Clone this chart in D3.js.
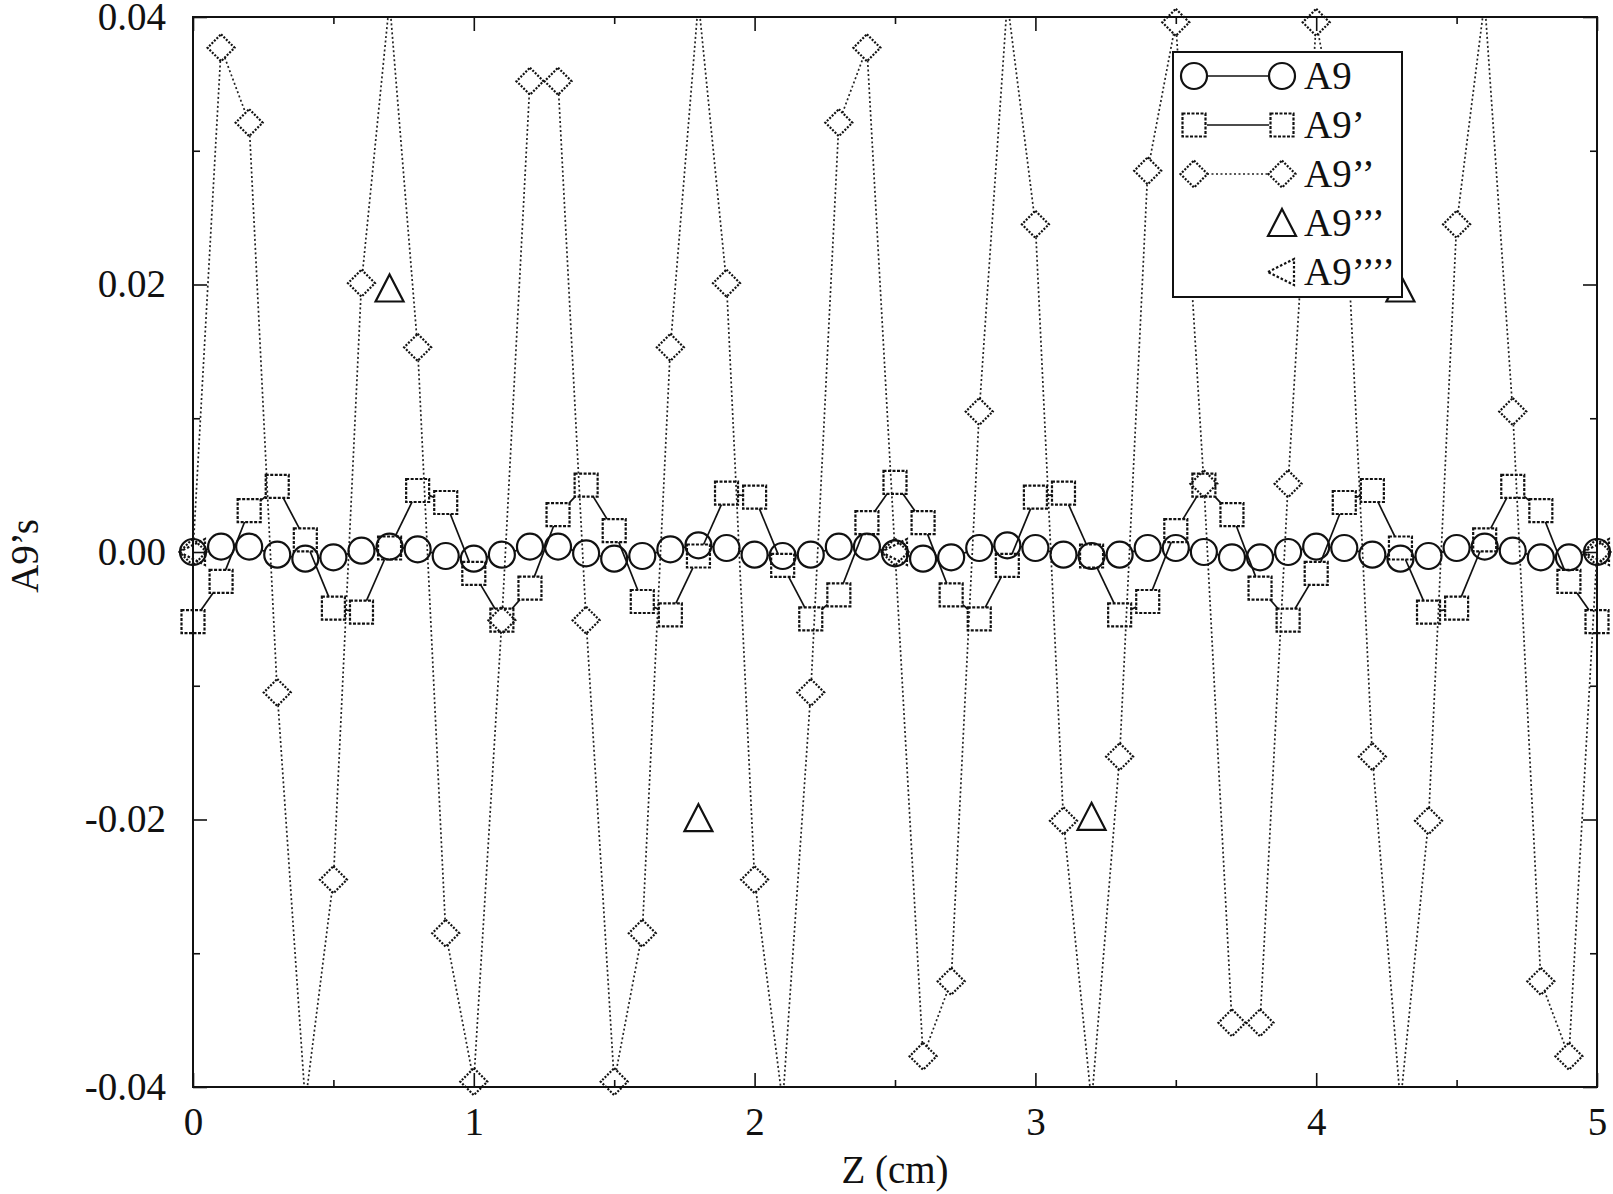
<!DOCTYPE html>
<html>
<head>
<meta charset="utf-8">
<script src="https://cdn.jsdelivr.net/npm/d3@7"></script>
<style>
  body { margin: 0; background: #fff; }
  text { font-family: "Liberation Serif", "Times New Roman", Tinos, "DejaVu Serif", serif; fill: #111; }
</style>
</head>
<body>
<svg id="chart" width="1613" height="1194"></svg>
<script>
// Z positions (cm)
const zValues = [0, 0.1, 0.2, 0.3, 0.4, 0.5, 0.6, 0.7, 0.8, 0.9,
                 1.0, 1.1, 1.2, 1.3, 1.4, 1.5, 1.6, 1.7, 1.8, 1.9,
                 2.0, 2.1, 2.2, 2.3, 2.4, 2.5, 2.6, 2.7, 2.8, 2.9,
                 3.0, 3.1, 3.2, 3.3, 3.4, 3.5, 3.6, 3.7, 3.8, 3.9,
                 4.0, 4.1, 4.2, 4.3, 4.4, 4.5, 4.6, 4.7, 4.8, 4.9, 5.0];

// A9 (circles)
const a9 = [0, 0.0004, 0.0004, -0.0002, -0.0005, -0.0004, 0.0001, 0.0004, 0.0002, -0.0003,
            -0.0005, -0.0002, 0.0004, 0.0004, -0.0001, -0.0005, -0.0003, 0.0002, 0.0005, 0.0003,
            -0.0002, -0.0003, -0.0002, 0.0004, 0.0004, -0.0001, -0.0005, -0.0004, 0.0003, 0.0005,
            0.0003, -0.0002, -0.0003, -0.0002, 0.0003, 0.0003, 0, -0.0004, -0.0004, 0,
            0.0004, 0.0003, -0.0002, -0.0005, -0.0003, 0.0003, 0.0004, 0.0001, -0.0004, -0.0004, 0];

// A9' (squares)
const a9p = [-0.0052, -0.0022, 0.0031, 0.0049, 0.0009, -0.0042, -0.0045, 0.0003, 0.0046, 0.0037,
             -0.0016, -0.0051, -0.0027, 0.0028, 0.0050, 0.0016, -0.0037, -0.0047, -0.0003, 0.0044,
             0.0041, -0.0010, -0.0050, -0.0032, 0.0022, 0.0052, 0.0022, -0.0032, -0.0050, -0.0010,
             0.0041, 0.0044, -0.0003, -0.0047, -0.0037, 0.0016, 0.0050, 0.0028, -0.0027, -0.0051,
             -0.0016, 0.0037, 0.0046, 0.0003, -0.0045, -0.0042, 0.0009, 0.0049, 0.0031, -0.0022, -0.0052];

// A9'' (diamonds), some points go past the frame
const a9pp = [0, 0.0377, 0.0321, -0.0105, -0.0412, -0.0245, 0.0201, 0.0412, 0.0153, -0.0285,
              -0.0396, -0.0051, 0.0352, 0.0352, -0.0051, -0.0396, -0.0285, 0.0153, 0.0412, 0.0201,
              -0.0245, -0.0412, -0.0105, 0.0321, 0.0377, 0, -0.0377, -0.0321, 0.0105, 0.0412,
              0.0245, -0.0201, -0.0412, -0.0153, 0.0285, 0.0396, 0.0051, -0.0352, -0.0352, 0.0051,
              0.0396, 0.0285, -0.0153, -0.0412, -0.0201, 0.0245, 0.0412, 0.0105, -0.0321, -0.0377, 0];

// A9''' (triangles)
const a9pppZ = [0.7, 1.8, 3.2, 4.3];
const a9ppp = [0.0197, -0.0199, -0.0198, 0.0197];

// A9'''' (left triangles)
const a9ppppZ = [0, 2.5, 5];
const a9pppp = [0, 0, 0];

const xMajor = [0, 1, 2, 3, 4, 5];
const xMinor = [0.5, 1.5, 2.5, 3.5, 4.5];
const yMajor = [-0.04, -0.02, 0, 0.02, 0.04];
const yMinor = [-0.03, -0.01, 0.01, 0.03];
const yTickLabels = ["-0.04", "-0.02", "0.00", "0.02", "0.04"];

const legendNames = ["A9", "A9\u2019", "A9\u2019\u2019", "A9\u2019\u2019\u2019", "A9\u2019\u2019\u2019\u2019"];

const W = 1613, H = 1194;
const margin = { left: 193, top: 17, right: 16, bottom: 107 };
const iw = W - margin.left - margin.right;
const ih = H - margin.top - margin.bottom;
const ink = "#111";
const serif = "'Liberation Serif', 'Times New Roman', Tinos, 'DejaVu Serif', serif";
const fontSize = 39;

const svg = d3.select("#chart");
const g = svg.append("g").attr("transform", `translate(${margin.left},${margin.top})`);

const x = d3.scaleLinear().domain([0, 5]).range([0, iw]);
const y = d3.scaleLinear().domain([-0.04, 0.04]).range([ih, 0]);

svg.append("defs").append("clipPath").attr("id", "plotclip")
  .append("rect").attr("width", iw).attr("height", ih);

// axes: inward ticks on all four sides
function styleAxis(sel) {
  sel.attr("font-family", serif);
  sel.select(".domain").remove();
  sel.selectAll(".tick line").attr("stroke", ink).attr("stroke-width", 1.6);
  sel.selectAll("text").attr("font-size", fontSize).attr("fill", ink)
    .style("font-family", serif);
}
g.append("g").attr("transform", `translate(0,${ih})`)
  .call(d3.axisBottom(x).tickValues(xMajor).tickSize(-14).tickPadding(20).tickFormat(d3.format("d")))
  .call(styleAxis);
g.append("g").attr("transform", `translate(0,${ih})`)
  .call(d3.axisBottom(x).tickValues(xMinor).tickSize(-7).tickFormat(""))
  .call(styleAxis);
g.append("g")
  .call(d3.axisTop(x).tickValues(xMajor).tickSize(-14).tickFormat(""))
  .call(styleAxis);
g.append("g")
  .call(d3.axisTop(x).tickValues(xMinor).tickSize(-7).tickFormat(""))
  .call(styleAxis);
g.append("g")
  .call(d3.axisLeft(y).tickValues(yMajor).tickSize(-14).tickPadding(27)
    .tickFormat((d, i) => yTickLabels[i]))
  .call(styleAxis);
g.append("g")
  .call(d3.axisLeft(y).tickValues(yMinor).tickSize(-7).tickFormat(""))
  .call(styleAxis);
g.append("g").attr("transform", `translate(${iw},0)`)
  .call(d3.axisRight(y).tickValues(yMajor).tickSize(-14).tickFormat(""))
  .call(styleAxis);
g.append("g").attr("transform", `translate(${iw},0)`)
  .call(d3.axisRight(y).tickValues(yMinor).tickSize(-7).tickFormat(""))
  .call(styleAxis);

g.append("rect").attr("width", iw).attr("height", ih)
  .attr("fill", "none").attr("stroke", ink).attr("stroke-width", 2);

// axis titles
svg.append("text")
  .attr("x", margin.left + iw / 2).attr("y", 1183)
  .attr("text-anchor", "middle").attr("font-size", fontSize)
  .style("font-family", serif)
  .text("Z (cm)");
svg.append("text")
  .attr("transform", "translate(38,556) rotate(-90)")
  .attr("text-anchor", "middle").attr("font-size", fontSize)
  .style("font-family", serif)
  .text("A9\u2019s");

// marker shapes
const shapes = {
  circle: { exit: (ux, uy) => 13 },
  square: { exit: (ux, uy) => 11.5 / Math.max(Math.abs(ux), Math.abs(uy)) },
  diamond: { exit: (ux, uy) => 13.5 / (Math.abs(ux) + Math.abs(uy)) }
};

function drawMarker(sel, shape, cx, cy, dash) {
  let m;
  if (shape === "circle") {
    m = sel.append("circle").attr("cx", cx).attr("cy", cy).attr("r", 13);
  } else if (shape === "square") {
    m = sel.append("rect").attr("x", cx - 11.5).attr("y", cy - 11.5).attr("width", 23).attr("height", 23);
  } else if (shape === "diamond") {
    m = sel.append("polygon")
      .attr("points", [[cx, cy - 13.5], [cx + 13.5, cy], [cx, cy + 13.5], [cx - 13.5, cy]].join(" "));
  } else if (shape === "triangle") {
    m = sel.append("polygon")
      .attr("points", [[cx, cy - 14], [cx + 14, cy + 13], [cx - 14, cy + 13]].join(" "));
  } else if (shape === "left") {
    m = sel.append("polygon")
      .attr("points", [[cx - 14, cy], [cx + 12, cy - 13], [cx + 12, cy + 13]].join(" "));
  }
  m.attr("fill", "none").attr("stroke", ink).attr("stroke-width", 2.2);
  if (dash) m.attr("stroke-dasharray", dash);
  return m;
}

const lineLayer = g.append("g").attr("clip-path", "url(#plotclip)");
const markLayer = g.append("g");

function inRange(v) { return Math.abs(v) <= 0.0401; }

// lines go from marker edge to marker edge
function drawSeries(values, shape, lineDash, markDash) {
  const pts = zValues.map((z, i) => ({ px: x(z), py: y(values[i]), show: inRange(values[i]) }));
  const s = shapes[shape];
  for (let i = 0; i < pts.length - 1; i++) {
    const a = pts[i], b = pts[i + 1];
    const dx = b.px - a.px, dy = b.py - a.py;
    const len = Math.hypot(dx, dy);
    const ux = dx / len, uy = dy / len;
    const ra = a.show ? s.exit(ux, uy) : 0;
    const rb = b.show ? s.exit(ux, uy) : 0;
    if (len <= ra + rb) continue;
    const ln = lineLayer.append("line")
      .attr("x1", a.px + ux * ra).attr("y1", a.py + uy * ra)
      .attr("x2", b.px - ux * rb).attr("y2", b.py - uy * rb)
      .attr("stroke", lineDash ? "#222" : ink).attr("stroke-width", 1.7);
    if (lineDash) ln.attr("stroke-dasharray", lineDash);
  }
  pts.filter(p => p.show).forEach(p => drawMarker(markLayer, shape, p.px, p.py, markDash));
}

drawSeries(a9pp, "diamond", "2,2.5", "2,1.5");
drawSeries(a9p, "square", null, "3,1.5");
drawSeries(a9, "circle", null, null);

a9pppZ.forEach((z, i) => drawMarker(markLayer, "triangle", x(z), y(a9ppp[i]), null));
a9ppppZ.forEach((z, i) => drawMarker(markLayer, "left", x(z), y(a9pppp[i]), "2.5,2"));

// legend
const legend = svg.append("g");
legend.append("rect")
  .attr("x", 1173).attr("y", 52).attr("width", 229).attr("height", 245)
  .attr("fill", "#fff").attr("stroke", ink).attr("stroke-width", 2);

const legendRows = [
  { shape: "circle", line: true, lineDash: null, markDash: null },
  { shape: "square", line: true, lineDash: null, markDash: "3,1.5" },
  { shape: "diamond", line: true, lineDash: "2,2.5", markDash: "2,1.5" },
  { shape: "triangle", line: false, lineDash: null, markDash: null },
  { shape: "left", line: false, lineDash: null, markDash: "2.5,2" }
];
legendRows.forEach((row, i) => {
  const cy = 76 + i * 49;
  if (row.line) {
    drawMarker(legend, row.shape, 1194, cy, row.markDash);
    const ln = legend.append("line")
      .attr("x1", 1207).attr("x2", 1269).attr("y1", cy).attr("y2", cy)
      .attr("stroke", row.lineDash ? "#222" : ink).attr("stroke-width", 1.7);
    if (row.lineDash) ln.attr("stroke-dasharray", row.lineDash);
  }
  drawMarker(legend, row.shape, 1282, cy, row.markDash);
  legend.append("text")
    .attr("x", 1304).attr("y", cy + 13)
    .attr("font-size", fontSize)
    .style("font-family", serif)
    .text(legendNames[i]);
});
</script>
</body>
</html>
